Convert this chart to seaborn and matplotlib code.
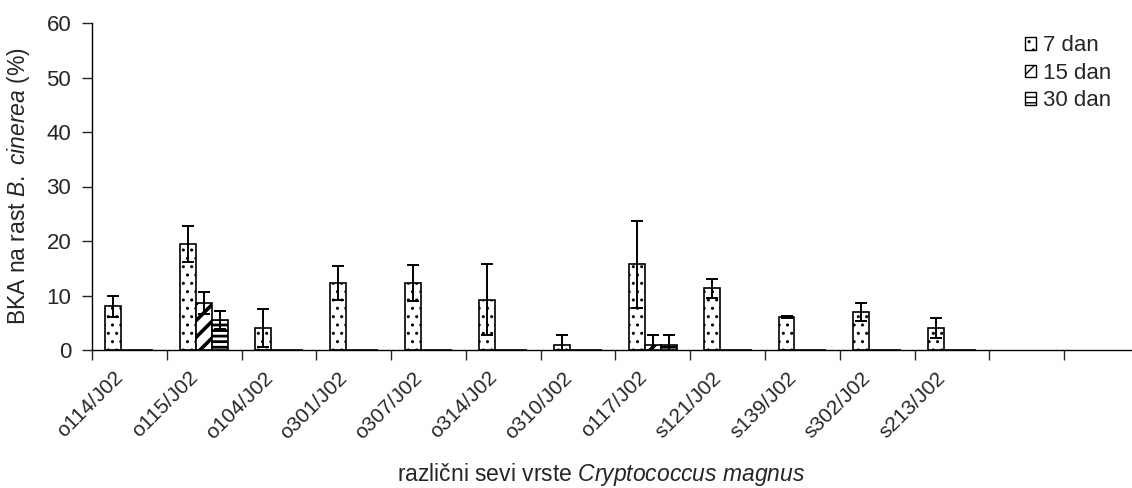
import numpy as np
import pandas as pd
import matplotlib
matplotlib.use("Agg")
import matplotlib.pyplot as plt
import matplotlib.patches as mpatches
import matplotlib.transforms as mtransforms
from matplotlib.ticker import FixedLocator, NullFormatter, FixedFormatter
import seaborn as sns

# --- data -------------------------------------------------------------
strains = ["o114/J02", "o115/J02", "o104/J02", "o301/J02", "o307/J02", "o314/J02",
           "o310/J02", "o117/J02", "s121/J02", "s139/J02", "s302/J02", "s213/J02"]
days = ["7 dan", "15 dan", "30 dan"]

day7 = [8.0, 19.4, 4.0, 12.3, 12.3, 9.2, 1.0, 15.7, 11.3, 6.0, 7.0, 4.0]
day7_err = [2.0, 3.3, 3.5, 3.2, 3.3, 6.5, 1.8, 8.0, 1.8, 0.2, 1.6, 1.8]
day15 = [0, 8.6, 0, 0, 0, 0, 0, 1.0, 0, 0, 0, 0]
day15_err = [0, 2.0, 0, 0, 0, 0, 0, 1.8, 0, 0, 0, 0]
day30 = [0, 5.5, 0, 0, 0, 0, 0, 1.0, 0, 0, 0, 0]
day30_err = [0, 1.7, 0, 0, 0, 0, 0, 1.8, 0, 0, 0, 0]

n_slots = 14  # category axis keeps two empty slots at the right

values = {"7 dan": day7, "15 dan": day15, "30 dan": day30}
errors = {"7 dan": day7_err, "15 dan": day15_err, "30 dan": day30_err}
hatches = {"7 dan": "..", "15 dan": "//", "30 dan": "---"}
hatch_lw = {"7 dan": 1.0, "15 dan": 2.6, "30 dan": 2.0}

df = pd.DataFrame({
    "strain": np.repeat(strains, len(days)),
    "day": days * len(strains),
    "value": [values[d][i] for i in range(len(strains)) for d in days],
})

# --- style ------------------------------------------------------------
sns.set_style("ticks")
plt.rcParams["font.family"] = ["Liberation Sans", "DejaVu Sans"]
plt.rcParams["mathtext.fontset"] = "custom"
plt.rcParams["mathtext.rm"] = "Liberation Sans"
plt.rcParams["mathtext.it"] = "Liberation Sans:italic"
plt.rcParams["hatch.color"] = "black"

fig = plt.figure(figsize=(11.32, 4.88), dpi=100)
left, right = 92 / 1132, 1139 / 1132
bottom, top = 1 - 350 / 488, 1 - 23 / 488
ax = fig.add_axes([left, bottom, right - left, top - bottom])

sns.barplot(data=df, x="strain", y="value", hue="day", order=strains,
            hue_order=days, palette=["white"] * 3, edgecolor="black",
            linewidth=1.2, width=0.64, errorbar=None, legend=False,
            saturation=1, ax=ax)


def style_patch(p, d):
    p.set_facecolor("white")
    p.set_edgecolor("black")
    p.set_hatch(hatches[d])
    if hasattr(p, "set_hatch_linewidth"):
        p.set_hatch_linewidth(hatch_lw[d])


for cont, d in zip(ax.containers, days):
    xs, hs = [], []
    for p in cont.patches:
        style_patch(p, d)
        xs.append(p.get_x() + p.get_width() / 2)
        hs.append(p.get_height())
    xs, hs, es = np.array(xs), np.array(hs), np.array(errors[d])
    mask = es > 0
    ax.errorbar(xs[mask], hs[mask], yerr=es[mask], fmt="none", ecolor="black",
                elinewidth=1.4, capsize=4.3, capthick=1.4, zorder=5)

# axes
ax.set_xlim(-0.5, n_slots - 0.5)
ax.set_ylim(0, 60)
ax.set_yticks(np.arange(0, 61, 10))
ax.tick_params(axis="y", labelsize=16, length=7, width=1, direction="out", pad=8)

ax.xaxis.set_major_locator(FixedLocator(np.arange(-0.5, n_slots, 1.0)))
ax.xaxis.set_major_formatter(NullFormatter())
ax.xaxis.set_minor_locator(FixedLocator(np.arange(len(strains))))
ax.xaxis.set_minor_formatter(FixedFormatter(strains))
ax.tick_params(axis="x", which="major", length=7, width=1, direction="out")
ax.tick_params(axis="x", which="minor", length=0, labelsize=15, pad=13)
shift = mtransforms.ScaledTranslation(-16 / 100, 0, fig.dpi_scale_trans)
for lab in ax.get_xticklabels(minor=True):
    lab.set_rotation(45)
    lab.set_ha("right")
    lab.set_va("top")
    lab.set_rotation_mode("anchor")
    lab.set_transform(lab.get_transform() + shift)

for s in ["top", "right"]:
    ax.spines[s].set_visible(False)
for s in ["left", "bottom"]:
    ax.spines[s].set_linewidth(1.0)
    ax.spines[s].set_color("black")

ax.set_xlabel(r"različni sevi vrste $\mathit{Cryptococcus\ magnus}$", fontsize=16.5)
ax.xaxis.set_label_coords((601 - 92) / 1047, -(474 - 350) / 327)
ax.xaxis.label.set_va("center")
ax.set_ylabel(r"BKA na rast $\mathit{B.\ cinerea}$ (%)", fontsize=16.5, labelpad=10)

# legend
handles = []
for d in days:
    h = mpatches.Patch(label=d)
    style_patch(h, d)
    handles.append(h)
leg = ax.legend(handles=handles, loc="upper right", bbox_to_anchor=(1028 / 1047, 0.99),
                frameon=False, fontsize=16, handlelength=0.5, handleheight=0.5,
                handletextpad=0.3, labelspacing=0.3, borderaxespad=0)

fig.savefig("out.png", dpi=100)
